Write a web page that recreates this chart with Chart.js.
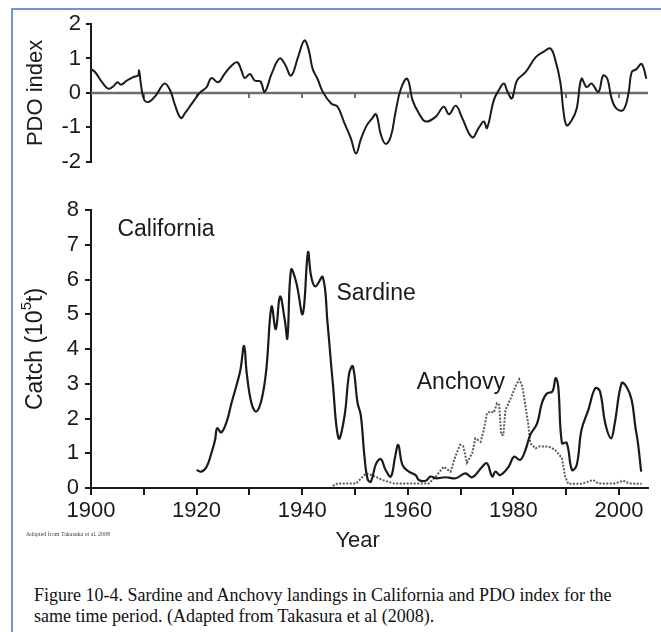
<!DOCTYPE html>
<html>
<head>
<meta charset="utf-8">
<title>Sardine and Anchovy landings in California and PDO index</title>
<script src="https://cdn.jsdelivr.net/npm/chart.js@4.4.0/dist/chart.umd.min.js"></script>
<style>
  html, body { margin: 0; padding: 0; background: #fff; }
  body { width: 661px; height: 632px; position: relative; overflow: hidden; }
  #frame { position: absolute; left: 11px; top: 8px; width: 700px; height: 700px;
           border-left: 2px solid #7097cc; border-top: 2px solid #7097cc; }
  #pdo { position: absolute; left: 0; top: 0; }
  #catch { position: absolute; left: 0; top: 190px; }
  #adapted { position: absolute; left: 26px; top: 531px; font: 6px "Liberation Serif", serif;
             color: #444; white-space: nowrap; }
  #caption { position: absolute; left: 34px; top: 585px; font: 18px/21px "Liberation Serif", serif;
             color: #111; white-space: nowrap; }
</style>
</head>
<body>
<div id="frame"></div>
<canvas id="pdo" width="661" height="180"></canvas>
<canvas id="catch" width="661" height="370"></canvas>
<div id="adapted">Adapted from Takasuka et al. 2008</div>
<div id="caption">Figure 10-4. Sardine and Anchovy landings in California and PDO index for the<br>same time period. (Adapted from Takasura et al (2008).</div>
<script>
// PDO index
const pdoYears = [1900.0, 1900.8, 1902.1, 1903.3, 1904.3, 1905.0, 1905.7, 1906.8, 1908.0, 1908.9,
  1909.1, 1909.5, 1910.1, 1911.0, 1912.3, 1913.9, 1915.0, 1915.9, 1917.0, 1917.8,
  1919.1, 1920.6, 1921.9, 1922.8, 1924.1, 1925.3, 1926.6, 1927.7, 1928.5, 1929.1,
  1930.1, 1931.0, 1932.1, 1932.9, 1934.2, 1935.7, 1936.7, 1937.9, 1939.2, 1940.4,
  1941.2, 1942.0, 1942.9, 1943.9, 1945.5, 1946.7, 1948.0, 1949.2, 1950.2, 1951.1,
  1952.2, 1953.2, 1954.0, 1954.9, 1955.8, 1956.8, 1957.7, 1958.7, 1959.9, 1960.9,
  1962.1, 1963.4, 1965.3, 1966.8, 1967.8, 1969.1, 1970.3, 1972.2, 1973.5, 1974.4,
  1975.0, 1976.3, 1977.2, 1978.2, 1978.8, 1979.7, 1980.7, 1982.3, 1984.2, 1985.7,
  1987.0, 1987.9, 1988.9, 1989.5, 1990.1, 1991.1, 1992.0, 1992.9, 1993.9, 1994.8,
  1996.1, 1997.0, 1997.8, 1998.6, 1999.5, 2000.8, 2001.8, 2002.4, 2003.3, 2004.3, 2005.2];
const pdoIndex = [0.69, 0.6, 0.31, 0.12, 0.2, 0.31, 0.24, 0.36, 0.46, 0.5,
  0.65, 0.2, -0.21, -0.26, -0.07, 0.27, 0.07, -0.35, -0.73, -0.59,
  -0.31, 0.0, 0.17, 0.43, 0.31, 0.55, 0.79, 0.89, 0.65, 0.43,
  0.55, 0.36, 0.33, 0.03, 0.55, 1.0, 0.84, 0.5, 1.03, 1.52,
  1.27, 0.69, 0.41, 0.03, -0.31, -0.4, -0.88, -1.31, -1.76, -1.35,
  -0.95, -0.75, -0.62, -1.21, -1.48, -1.26, -0.54, 0.12, 0.41, -0.21,
  -0.59, -0.83, -0.69, -0.4, -0.62, -0.37, -0.73, -1.29, -1.0, -0.83,
  -1.02, -0.21, 0.07, 0.27, 0.07, -0.16, 0.36, 0.6, 1.03, 1.19,
  1.29, 0.98, 0.31, -0.54, -0.94, -0.78, -0.45, 0.41, 0.17, 0.27,
  0.03, 0.5, 0.41, -0.16, -0.45, -0.5, -0.02, 0.6, 0.69, 0.84, 0.41];

// Sardine catch, 10^5 t
const sardineYears = [1920.0, 1920.9, 1921.9, 1922.8, 1923.5, 1923.9, 1924.7, 1925.7, 1926.6, 1927.5,
  1928.3, 1929.0, 1929.5, 1930.4, 1931.3, 1932.3, 1933.2, 1934.2, 1935.0, 1935.8,
  1936.7, 1937.2, 1937.9, 1938.9, 1940.1, 1941.1, 1941.7, 1942.5, 1943.9, 1944.8,
  1945.8, 1946.9, 1948.0, 1948.9, 1949.6, 1950.5, 1951.1, 1951.8, 1952.4, 1953.0,
  1954.0, 1954.9, 1955.8, 1956.8, 1957.6, 1958.2, 1959.0, 1960.2, 1961.5, 1962.1,
  1963.4, 1964.3, 1965.3, 1967.2, 1969.1, 1970.9, 1972.2, 1974.1, 1975.0, 1976.0,
  1976.6, 1977.5, 1979.1, 1980.1, 1981.3, 1982.3, 1983.2, 1984.5, 1985.4, 1986.3,
  1987.4, 1988.0, 1988.5, 1989.2, 1990.1, 1991.1, 1992.0, 1992.9, 1994.2, 1995.5,
  1996.4, 1997.4, 1998.5, 1999.2, 2000.5, 2001.4, 2002.4, 2003.1, 2003.6, 2004.2];
const sardineCatch = [0.52, 0.47, 0.61, 1.0, 1.38, 1.72, 1.6, 1.91, 2.44, 2.92,
  3.4, 4.09, 3.3, 2.44, 2.2, 2.54, 3.4, 5.22, 4.57, 5.51,
  4.84, 4.31, 6.28, 5.9, 5.01, 6.78, 6.09, 5.8, 6.07, 4.75,
  3.02, 1.43, 2.05, 3.3, 3.5, 2.44, 2.1, 0.9, 0.25, 0.18,
  0.7, 0.83, 0.52, 0.33, 0.9, 1.24, 0.66, 0.47, 0.37, 0.23,
  0.21, 0.33, 0.28, 0.31, 0.28, 0.42, 0.31, 0.61, 0.71, 0.33,
  0.47, 0.37, 0.61, 0.9, 0.81, 1.1, 1.53, 1.86, 2.44, 2.71,
  2.78, 3.16, 2.92, 1.29, 1.3, 0.52, 0.66, 1.67, 2.25, 2.87,
  2.78, 1.86, 1.43, 1.86, 3.02, 2.92, 2.54, 1.77, 1.29, 0.47];

// Anchovy catch, 10^5 t
const anchovyYears = [1945.8, 1946.7, 1950.2, 1952.1, 1953.2, 1955.2, 1957.4, 1964.0, 1965.3, 1966.8,
  1968.1, 1969.0, 1969.9, 1970.5, 1971.2, 1972.2, 1972.8, 1973.8, 1974.4, 1975.0,
  1975.6, 1976.3, 1976.9, 1977.3, 1977.7, 1978.1, 1978.5, 1979.4, 1980.4, 1981.1,
  1981.7, 1982.3, 1982.8, 1983.2, 1984.2, 1985.0, 1986.7, 1987.9, 1989.2, 1989.8,
  1990.4, 1992.9, 1995.1, 1996.1, 1999.2, 2000.8, 2002.0, 2004.3];
const anchovyCatch = [0.06, 0.13, 0.13, 0.42, 0.37, 0.23, 0.13, 0.13, 0.33, 0.61,
  0.47, 0.9, 1.24, 1.2, 0.73, 1.0, 1.43, 1.33, 1.67, 2.15,
  2.2, 2.17, 2.44, 2.4, 1.53, 1.53, 2.25, 2.54, 2.92, 3.13,
  2.92, 2.34, 1.86, 1.29, 1.14, 1.2, 1.19, 1.1, 0.86, 0.33,
  0.12, 0.12, 0.23, 0.13, 0.13, 0.21, 0.13, 0.12];

const pdoTicks = [-2, -1, 0, 1, 2];
const catchTicks = [0, 1, 2, 3, 4, 5, 6, 7, 8];
const yearLabels = [1900, 1920, 1940, 1960, 1980, 2000];

const sans = '"Liberation Sans", Arial, Helvetica, sans-serif';
const ink = '#1a1a1a';
const zip = (xs, ys) => xs.map((x, i) => ({ x: x, y: ys[i] }));

// vertical axis title, reading bottom to top, with an optional superscript
function sideTitle(ctx, area, parts) {
  ctx.save();
  ctx.translate(41.5, (area.top + area.bottom) / 2);
  ctx.rotate(-Math.PI / 2);
  ctx.fillStyle = ink;
  ctx.textBaseline = 'alphabetic';
  const widths = parts.map(p => { ctx.font = p.size + 'px ' + sans; return ctx.measureText(p.text).width; });
  let pos = -widths.reduce((a, b) => a + b, 0) / 2;
  parts.forEach((p, i) => {
    ctx.font = p.size + 'px ' + sans;
    ctx.fillText(p.text, pos, -(p.rise || 0));
    pos += widths[i];
  });
  ctx.restore();
}

const pdoDecor = {
  id: 'pdoDecor',
  beforeDatasetsDraw(chart) {
    const { ctx, scales: { x, y } } = chart;
    const y0 = y.getPixelForValue(0);
    ctx.save();
    ctx.strokeStyle = '#6e6e6e';
    ctx.lineWidth = 2.5;
    ctx.beginPath();
    ctx.moveTo(x.left, y0);
    ctx.lineTo(x.right, y0);
    ctx.stroke();
    ctx.lineWidth = 2;
    ctx.beginPath();
    for (let yr = 1910; yr <= 2000; yr += 10) {
      const px = Math.round(x.getPixelForValue(yr));
      ctx.moveTo(px, y0);
      ctx.lineTo(px, y0 + 5);
    }
    ctx.stroke();
    ctx.restore();
  },
  afterDraw(chart) {
    sideTitle(chart.ctx, chart.chartArea, [{ text: 'PDO index', size: 22 }]);
  }
};

const catchDecor = {
  id: 'catchDecor',
  afterDraw(chart) {
    const { ctx, chartArea, scales: { x, y } } = chart;
    ctx.save();
    ctx.fillStyle = ink;
    ctx.textBaseline = 'alphabetic';
    ctx.font = '23px ' + sans;
    ctx.fillText('California', x.getPixelForValue(1905), y.getPixelForValue(7.26));
    ctx.fillText('Sardine', x.getPixelForValue(1946.5), y.getPixelForValue(5.4));
    ctx.fillText('Anchovy', x.getPixelForValue(1961.7), y.getPixelForValue(2.85));
    ctx.font = '22px ' + sans;
    ctx.textAlign = 'center';
    ctx.fillText('Year', x.getPixelForValue(1950.5), chartArea.bottom + 59);
    ctx.restore();
    sideTitle(ctx, chartArea, [
      { text: 'Catch (10', size: 23 },
      { text: '5', size: 15, rise: 11 },
      { text: 't)', size: 23 }
    ]);
  }
};

const yearScale = (extra) => Object.assign({
  type: 'linear',
  min: 1900,
  max: 2005.5
}, extra);

new Chart(document.getElementById('pdo'), {
  type: 'line',
  data: {
    datasets: [{
      label: 'PDO index',
      data: zip(pdoYears, pdoIndex),
      borderColor: ink,
      borderWidth: 2,
      pointRadius: 0,
      tension: 0.4
    }]
  },
  options: {
    responsive: false,
    animation: false,
    layout: { padding: { top: 24, right: 13, bottom: 16, left: 0 } },
    plugins: { legend: { display: false }, tooltip: { enabled: false } },
    scales: {
      x: yearScale({ display: false }),
      y: {
        min: -2,
        max: 2,
        afterFit: s => { s.width = 91; },
        afterBuildTicks: s => { s.ticks = pdoTicks.map(v => ({ value: v })); },
        border: { color: ink, width: 2 },
        grid: { drawOnChartArea: false, tickLength: 5, color: ink, lineWidth: 2 },
        ticks: { padding: 5, color: ink, font: { family: sans, size: 22 } }
      }
    }
  },
  plugins: [pdoDecor]
});

new Chart(document.getElementById('catch'), {
  type: 'line',
  data: {
    datasets: [{
      label: 'Sardine',
      data: zip(sardineYears, sardineCatch),
      borderColor: ink,
      borderWidth: 2.2,
      pointRadius: 0,
      tension: 0.4
    }, {
      label: 'Anchovy',
      data: zip(anchovyYears, anchovyCatch),
      borderColor: '#5a5a5a',
      borderWidth: 2,
      borderDash: [2, 1.5],
      pointRadius: 0,
      tension: 0
    }]
  },
  options: {
    responsive: false,
    animation: false,
    layout: { padding: { top: 20, right: 13, bottom: 0, left: 0 } },
    plugins: { legend: { display: false }, tooltip: { enabled: false } },
    scales: {
      x: yearScale({
        afterFit: s => { s.height = 72; },
        border: { color: ink, width: 2 },
        grid: { drawOnChartArea: false, tickLength: 7, color: ink, lineWidth: 2 },
        ticks: {
          stepSize: 10,
          includeBounds: false,
          autoSkip: false,
          maxRotation: 0,
          padding: 3,
          color: ink,
          font: { family: sans, size: 22 },
          callback: v => yearLabels.includes(v) ? String(v) : ''
        }
      }),
      y: {
        min: 0,
        max: 8,
        afterFit: s => { s.width = 91; },
        afterBuildTicks: s => { s.ticks = catchTicks.map(v => ({ value: v })); },
        border: { color: ink, width: 2 },
        grid: { drawOnChartArea: false, tickLength: 6, color: ink, lineWidth: 2 },
        ticks: { padding: 6, color: ink, font: { family: sans, size: 22 } }
      }
    }
  },
  plugins: [catchDecor]
});
</script>
</body>
</html>
